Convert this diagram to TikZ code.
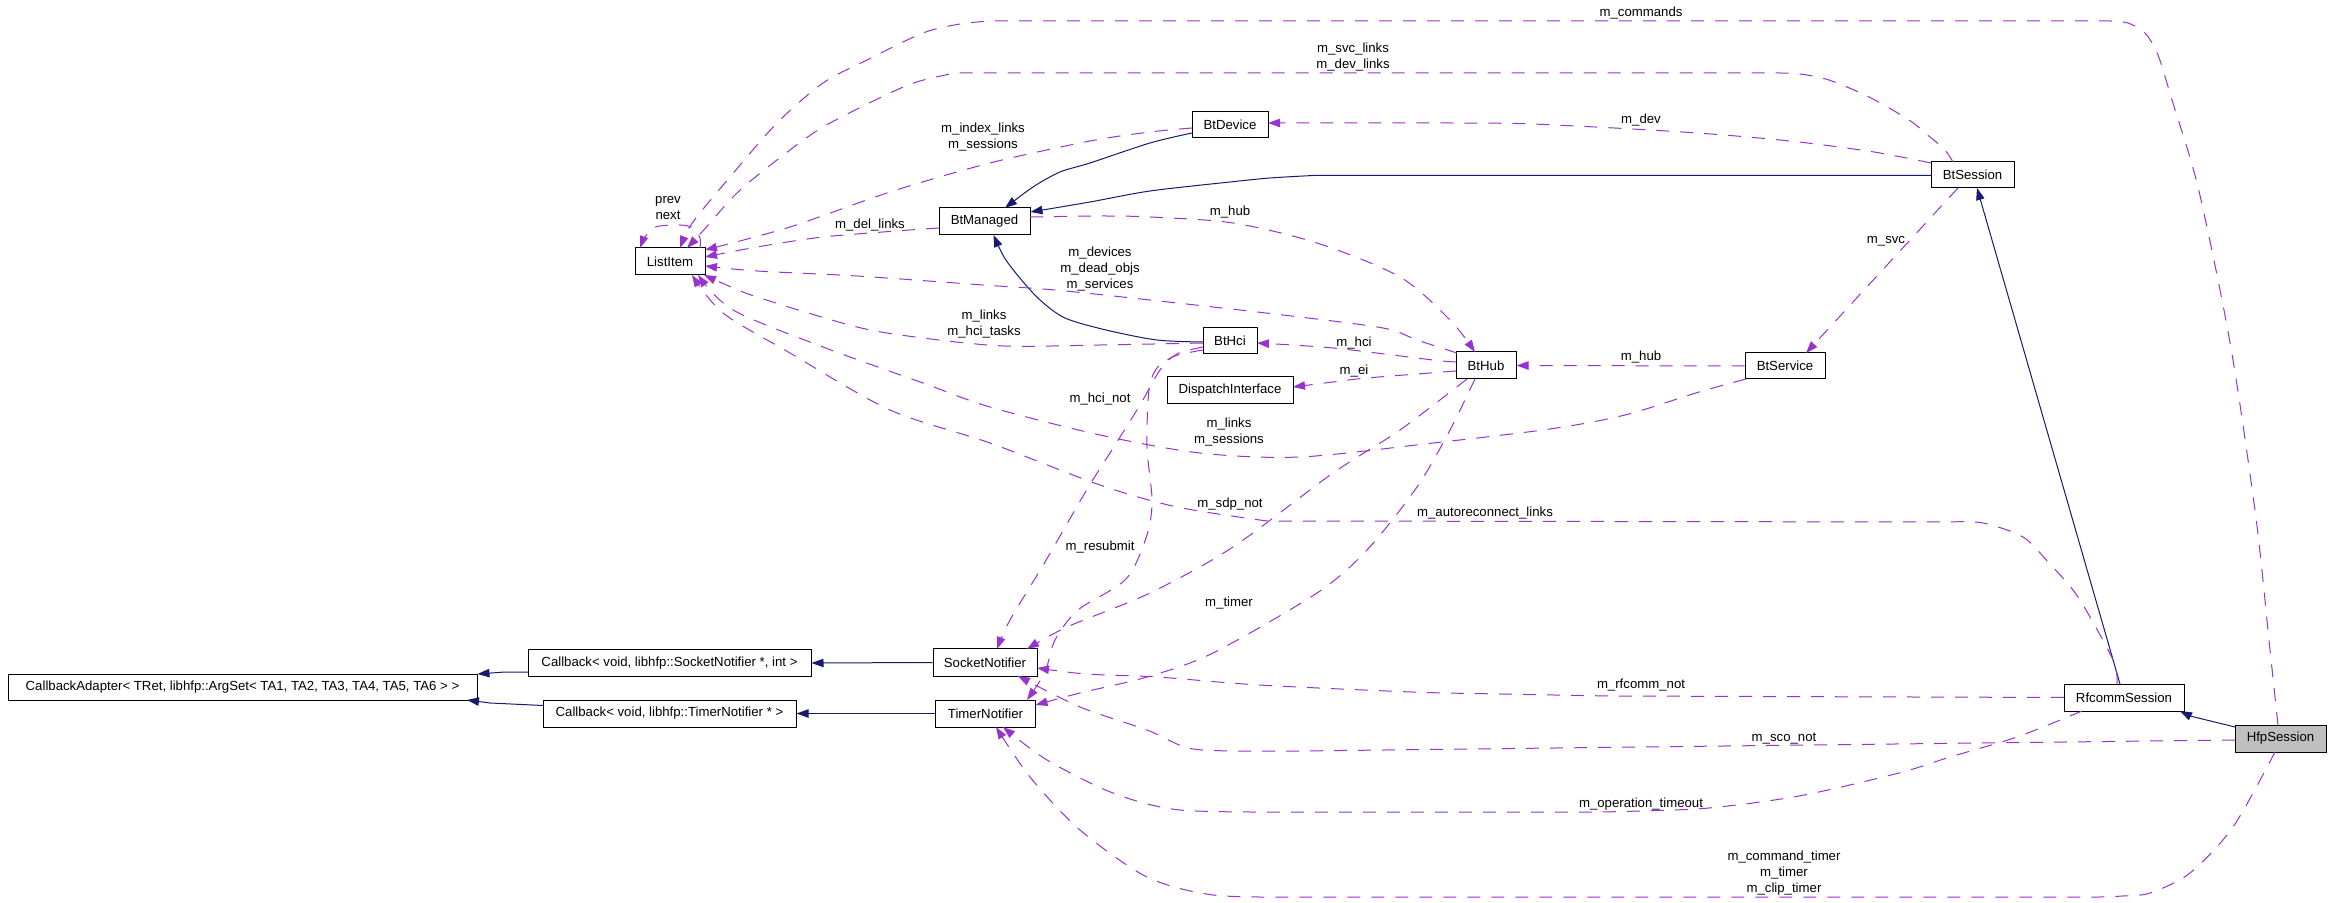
\documentclass[tikz,border=0pt]{standalone}
\usepackage{fontspec}
\setmainfont{Liberation Sans}
\usetikzlibrary{arrows.meta}
\definecolor{purp}{HTML}{9A32CD}
\definecolor{navyblue}{HTML}{191970}
\definecolor{hfpgray}{HTML}{BFBFBF}
\newcommand{\dxfont}{\fontsize{6.6}{8}\selectfont}
\tikzset{
  box/.style={draw=black, line width=0.5pt, inner sep=0pt, minimum height=13.5pt, font=\dxfont, anchor=center},
  lbl/.style={font=\dxfont, align=center, inner sep=0pt, anchor=center},
  use/.style={draw=purp, line width=0.5pt, dash pattern=on 6.5pt off 5.5pt, -{Triangle[length=6pt,width=4.2pt]}},
  inh/.style={draw=navyblue, line width=0.5pt, -{Triangle[length=6pt,width=4.2pt]}},
  sm/.style={smooth,tension=0.5},
}
\begin{document}
\begin{tikzpicture}[x=0.5pt,y=-0.5pt]
\fill[white] (0,0) rectangle (2331,903);
\path[use as bounding box] (0,0) rectangle (2331,903);

% nodes
\node[box, minimum width=35pt] (LI) at (670,261.5) {ListItem};
\node[box, minimum width=38pt, minimum height=13pt] (BD) at (1230,124.5) {BtDevice};
\node[box, minimum width=45.5pt] (BM) at (984.5,221.5) {BtManaged};
\node[box, minimum width=41.5pt, minimum height=13pt] (BS) at (1972.5,175) {BtSession};
\node[box, minimum width=27pt, minimum height=13pt] (BH) at (1230,340.5) {BtHci};
\node[box, minimum width=30pt] (HB) at (1486,365.5) {BtHub};
\node[box, minimum width=63pt] (DI) at (1230,390.5) {DispatchInterface};
\node[box, minimum width=40pt, minimum height=13pt] (SV) at (1785,366) {BtService};
\node[box, minimum width=52pt] (SN) at (985,662.5) {SocketNotifier};
\node[box, minimum width=50pt] (TN) at (985.5,713.5) {TimerNotifier};
\node[box, minimum width=141.5pt, minimum height=13pt] (CS) at (669.5,663) {Callback< void, libhfp::SocketNotifier *, int >};
\node[box, minimum width=126.5pt] (CT) at (669.5,713.5) {Callback< void, libhfp::TimerNotifier * >};
\node[box, minimum width=234.5pt, minimum height=13pt] (CA) at (242.5,687) {CallbackAdapter< TRet, libhfp::ArgSet< TA1, TA2, TA3, TA4, TA5, TA6 > >};
\node[box, minimum width=60pt] (RS) at (2124,697.5) {RfcommSession};
\node[box, minimum width=45.5pt, fill=hfpgray] (HS) at (2280.5,738.5) {HfpSession};

% inheritance
\draw[inh] plot[sm] coordinates {([shift={(-38,8.5)}]BD.center) (1150,143) (1090,163) (1060,172) (1033,187) ([shift={(20.5,-13.5)}]BM.center)};
\draw[inh] ([shift={(-41.5,0.5)}]BS.center) -- (1313,175.5) -- plot[sm] coordinates {(1313,175.5) (1270,178) (1230,182) (1150,191) (1090,202) ([shift={(46,-9.5)}]BM.center)};
\draw[inh] plot[sm] coordinates {([shift={(-27,1.5)}]BH.center) (1157,340) (1106,330) (1065,318) (1040,300) (1019,277) (1004,257) ([shift={(9,13.5)}]BM.center)};
\draw[inh] ([shift={(-4,-13.5)}]RS.center) -- ([shift={(4.5,13)}]BS.center);
\draw[inh] ([shift={(-45.5,-11.5)}]HS.center) -- (2190,716) -- ([shift={(56,13.5)}]RS.center);
\draw[inh] (SN.west) -- (CS.east);
\draw[inh] (TN.west) -- (CT.east);
\draw[inh] ([shift={(-141.5,9)}]CS.center) -- (505,672) -- ([shift={(235,-13)}]CA.center);
\draw[inh] ([shift={(-126.5,-8)}]CT.center) -- (490,703) -- ([shift={(224.5,13)}]CA.center);

% usage
\draw[use] plot[sm] coordinates {([shift={(30,-13.5)}]LI.center) (700,238) (693,228) (680,225) (655,227) (645,237) ([shift={(-30,-13.5)}]LI.center)};
\draw[use] plot[sm] coordinates {([shift={(-2.5,-13.5)}]HS.center) (2270,650) (2257,526) (2237,385) (2222,300) (2197,183) (2172,100) (2158,55) (2145,33) (2128,23) (2110,21)}
  -- plot[sm] coordinates {(990,21) (960,24) (923,33) (867,60) (823,83) (777,123) (730,177) (693,222) ([shift={(10,-13.5)}]LI.center)};
\draw[use] plot[sm] coordinates {([shift={(-19.5,-13)}]BS.center) (1945,150) (1930,137) (1909,120) (1869,97) (1829,80) (1800,74) (1780,73)}
  -- plot[sm] coordinates {(955,73) (920,81) (890,93) (823,127) (777,160) (737,193) (702,232) ([shift={(17,-13.5)}]LI.center)};
\draw[use] plot[sm] coordinates {([shift={(-38,3.5)}]BD.center) (1150,132) (1090,141) (990,163) (890,192) (790,227) ([shift={(35,-11.5)}]LI.center)};
\draw[use] plot[sm] coordinates {([shift={(-45.5,6.5)}]BM.center) (910,230) (823,237) (757,247) ([shift={(35,-4.5)}]LI.center)};
\draw[use] plot[sm] coordinates {([shift={(-29,-12.5)}]HB.center) (1417,340) (1383,328) (1283,315) (1150,300) (1055,290) (983,285) (857,276) (757,271) ([shift={(35,4.5)}]LI.center)};
\draw[use] plot[sm] coordinates {([shift={(-27,2.5)}]BH.center) (1100,345) (1004,346) (923,338) (857,327) (757,297) (722,283) ([shift={(34,13.5)}]LI.center)};
\draw[use] plot[sm] coordinates {([shift={(-39,13)}]SV.center) (1699,392) (1625,415) (1550,429) (1433,443) (1300,457) (1200,453) (1100,435) (990,407) (923,383) (823,347) (733,310) ([shift={(28,13.5)}]LI.center)};
\draw[use] plot[sm] coordinates {([shift={(-7,-13.5)}]RS.center) (2113,660) (2078,597) (2048,562) (2023,537) (1983,523) (1948,522)}
  -- plot[sm] coordinates {(1267,521) (1177,507) (1100,485) (990,443) (890,410) (790,353) (723,313) ([shift={(22,13.5)}]LI.center)};
\draw[use] plot[sm] coordinates {([shift={(45.5,-4.5)}]BM.center) (1100,216) (1150,217) (1233,223) (1317,243) (1400,277) (1450,320) ([shift={(-11,-13.5)}]HB.center)};
\draw[use] plot[sm] coordinates {([shift={(-41.5,-12)}]BS.center) (1874,152) (1799,142) (1724,135) (1650,130) (1575,126) (1517,123.5) (1450,123)} -- ([shift={(38,-1.5)}]BD.center);
\draw[use] ([shift={(-14.5,13)}]BS.center) -- ([shift={(21,-13)}]SV.center);
\draw[use] plot[sm] coordinates {([shift={(-30,-3.5)}]HB.center) (1433,360) (1333,348) ([shift={(27,2.5)}]BH.center)};
\draw[use] plot[sm] coordinates {([shift={(-30,5.5)}]HB.center) (1367,378) (1333,382) ([shift={(63,-3.5)}]DI.center)};
\draw[use] (SV.west) -- (HB.east);
\draw[use] plot[sm] coordinates {([shift={(-27,6.5)}]BH.center) (1177,354) (1160,370) (1140,405) (1110,453) (1086,491) (1045,562) (1010,620) ([shift={(12,-13.5)}]SN.center)};
\draw[use] plot[sm] coordinates {([shift={(-27,9.5)}]BH.center) (1175,356) (1157,368) (1149,390) (1147,447) (1152,500) (1147,535) (1126,579) (1078,610) (1055,640) (1045,672) ([shift={(41.5,-13.5)}]TN.center)};
\draw[use] plot[sm] coordinates {([shift={(-19,13.5)}]HB.center) (1400,430) (1333,473) (1233,547) (1150,593) (1067,627) ([shift={(42,-13.5)}]SN.center)};
\draw[use] plot[sm] coordinates {([shift={(-11,13.5)}]HB.center) (1450,430) (1417,487) (1367,550) (1317,593) (1213,653) (1147,677) (1080,693) ([shift={(50,-8.5)}]TN.center)};
\draw[use] ([shift={(-60,0)}]RS.center) -- (1610,696) -- plot[sm] coordinates {(1610,696) (1500,694) (1412,692) (1259,685) (1157,677) (1086,674) ([shift={(52,5.5)}]SN.center)};
\draw[use] ([shift={(-45.5,1.5)}]HS.center) -- (1300,751) -- plot[sm] coordinates {(1300,751) (1234,751) (1188,748) (1147,730) (1080,707) ([shift={(33,13.5)}]SN.center)};
\draw[use] plot[sm] coordinates {([shift={(-42,13.5)}]RS.center) (2017,737) (1950,757) (1899,773) (1799,796) (1709,808) (1640,811) (1600,812)}
  -- plot[sm] coordinates {(1297,812) (1180,810) (1113,793) (1047,760) ([shift={(17.5,13.5)}]TN.center)};
\draw[use] plot[sm] coordinates {([shift={(-5.5,13.5)}]HS.center) (2233,827) (2190,873) (2150,893) (2123,896) (2100,897)}
  -- plot[sm] coordinates {(1297,897) (1213,895) (1147,877) (1080,830) (1030,777) ([shift={(10.5,13.5)}]TN.center)};

% labels
\node[lbl] (l1) at (1641,13) {m\_commands};
\node[lbl] (l2) at (1353,57) {m\_svc\_links\\m\_dev\_links};
\node[lbl] (l3) at (1641,120) {m\_dev};
\node[lbl] (l4) at (983,137) {m\_index\_links\\m\_sessions};
\node[lbl] (l5) at (668,208) {prev\\next};
\node[lbl] (l6) at (870,225) {m\_del\_links};
\node[lbl] (l7) at (1230,212) {m\_hub};
\node[lbl] (l8) at (1100,269) {m\_devices\\m\_dead\_objs\\m\_services};
\node[lbl] (l9) at (984,324) {m\_links\\m\_hci\_tasks};
\node[lbl] (l10) at (1354,343) {m\_hci};
\node[lbl] (l11) at (1886,241) {m\_svc};
\node[lbl] (l12) at (1641,357) {m\_hub};
\node[lbl] (l13) at (1354,371) {m\_ei};
\node[lbl] (l14) at (1100,399) {m\_hci\_not};
\node[lbl] (l15) at (1229,432) {m\_links\\m\_sessions};
\node[lbl] (l16) at (1230,504) {m\_sdp\_not};
\node[lbl] (l17) at (1485,513) {m\_autoreconnect\_links};
\node[lbl] (l18) at (1100,547) {m\_resubmit};
\node[lbl] (l19) at (1229,603) {m\_timer};
\node[lbl] (l20) at (1641,685) {m\_rfcomm\_not};
\node[lbl] (l21) at (1784,739) {m\_sco\_not};
\node[lbl] (l22) at (1641,804) {m\_operation\_timeout};
\node[lbl] (l23) at (1784,873) {m\_command\_timer\\m\_timer\\m\_clip\_timer};
\end{tikzpicture}
\end{document}
